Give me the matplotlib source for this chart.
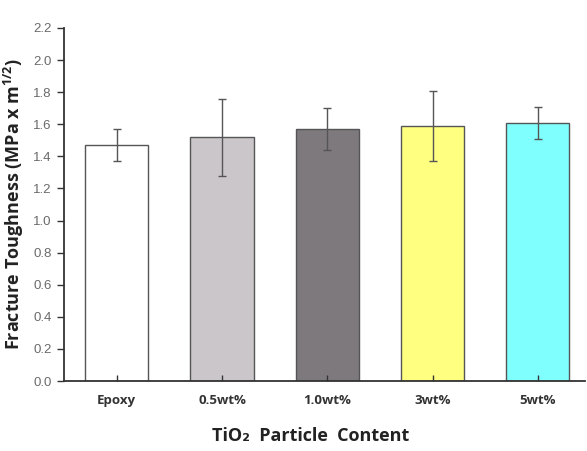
import matplotlib
matplotlib.use("Agg")
from matplotlib import pyplot as plt
import numpy as np

# data
categories = ["Epoxy", "0.5wt%", "1.0wt%", "3wt%", "5wt%"]
toughness = [1.47, 1.52, 1.57, 1.59, 1.61]
errors = [0.10, 0.24, 0.13, 0.22, 0.10]
colors = ["#ffffff", "#cbc6ca", "#7e797d", "#ffff80", "#80ffff"]
yticks = [0.0, 0.2, 0.4, 0.6, 0.8, 1.0, 1.2, 1.4, 1.6, 1.8, 2.0, 2.2]

bold_font = ["Open Sans", "DejaVu Sans"]

fig = plt.figure(figsize=(5.87, 4.51), dpi=100)
ax = fig.add_axes([0.109, 0.155, 0.888, 0.783])

x = np.arange(len(categories))
ax.bar(x, toughness, width=0.6, color=colors, edgecolor="#555555", linewidth=1.0,
       yerr=errors, ecolor="#555555",
       error_kw=dict(elinewidth=1.0, capsize=3, capthick=1.0))

ax.set_xlim(-0.5, 4.45)
ax.set_ylim(0, 2.2)
ax.set_yticks(yticks)
ax.set_yticklabels([f"{v:.1f}" for v in yticks], family="Liberation Sans",
                   fontsize=9.5, color="#6a6a6a")
ax.set_xticks(x)
ax.set_xticklabels(categories, family=bold_font, fontweight="bold",
                   fontsize=9.5, color="#333333")

ax.tick_params(axis="y", direction="out", length=5, width=1, color="#333333", pad=4)
ax.tick_params(axis="x", direction="in", length=4, width=1, color="#333333", pad=9)

for side in ["top", "right"]:
    ax.spines[side].set_visible(False)
for side in ["left", "bottom"]:
    ax.spines[side].set_linewidth(1.3)
    ax.spines[side].set_color("#333333")

ax.set_ylabel(r"Fracture Toughness (MPa x m$\mathregular{^{1/2}}$)",
              family=bold_font, fontweight="bold", fontsize=13, color="#222222",
              labelpad=5)
ax.set_xlabel("TiO₂  Particle  Content", family=bold_font, fontweight="bold",
              fontsize=13, color="#222222")
ax.xaxis.set_label_coords(0.474, -0.13)

fig.savefig("out.png", dpi=100)
